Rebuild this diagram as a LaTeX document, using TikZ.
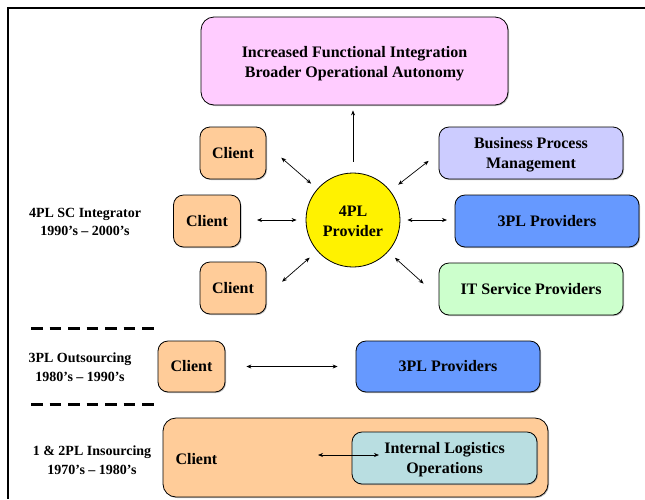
\documentclass[tikz,border=0pt]{standalone}
\usepackage{fontspec}
\setmainfont{Liberation Serif}
\usetikzlibrary{arrows.meta,shadows}
\definecolor{goalpink}{RGB}{255,204,255}
\definecolor{clientor}{RGB}{255,204,153}
\definecolor{bpmlav}{RGB}{204,204,255}
\definecolor{tplblue}{RGB}{102,153,255}
\definecolor{itgreen}{RGB}{204,255,204}
\definecolor{opsteal}{RGB}{185,222,225}
\begin{document}
\begin{tikzpicture}[x=1pt,y=-1pt, every node/.style={font=\bfseries\fontsize{16}{20}\selectfont},
  box/.style={draw,rounded corners=10pt,minimum height=52pt,align=center,line width=0.8pt,
    drop shadow={shadow xshift=1pt,shadow yshift=-1pt,fill=black!45,opacity=0.6}},
  era/.style={align=center,font=\bfseries\fontsize{14}{18.5}\selectfont},
  link/.style={{Stealth[length=5pt,width=4pt]}-{Stealth[length=5pt,width=4pt]},line width=0.7pt}]
\useasboundingbox (0,0) rectangle (645,499);
% frame
\draw[line width=1.4pt] (645,8) -- (8,8) -- (8,499);
% 4PL era
\node[box,fill=goalpink,minimum width=307pt,minimum height=88pt,rounded corners=13pt] (goal) at (354.5,61) {\rule{0pt}{17pt}Increased Functional Integration\\Broader Operational Autonomy};
\node[draw,circle,fill=yellow,minimum size=94pt,inner sep=0pt,line width=0.8pt,align=center] (hub) at (353,220) {\rule{0pt}{13pt}4PL\\Provider};
\node[box,fill=clientor,minimum width=66pt] (c1) at (233,153) {Client};
\node[box,fill=clientor,minimum width=67pt] (c2) at (207,221) {Client};
\node[box,fill=clientor,minimum width=66pt] (c3) at (233,288) {Client};
\node[box,fill=bpmlav,minimum width=184pt] (bpm) at (531,153) {\rule{0pt}{15pt}Business Process\\Management};
\node[box,fill=tplblue,minimum width=184pt] (tpl) at (547,221) {3PL Providers};
\node[box,fill=itgreen,minimum width=184pt] (its) at (531,289) {IT Service Providers};
\node[era] (e4) at (85,222) {4PL SC Integrator\\1990's -- 2000's};
\draw[-{Stealth[length=5pt,width=4pt]},line width=0.7pt,shorten <=11pt,shorten >=5pt] (hub.north) -- (hub.north |- goal.south);
% y axis is flipped, so polar angles are mirrored
\path (hub.center) ++(-139:95) coordinate (r1) (hub.center) ++(180:96) coordinate (r2) (hub.center) ++(-221:94) coordinate (r3)
  (hub.center) ++(-38:96) coordinate (r4) (hub.center) ++(0:94) coordinate (r5) (hub.center) ++(42:95) coordinate (r6);
\draw[link,shorten <=8pt] (hub.139) -- (r1); \draw[link,shorten <=9pt] (hub.180) -- (r2); \draw[link,shorten <=10pt] (hub.221) -- (r3);
\draw[link,shorten <=10pt] (hub.38) -- (r4); \draw[link,shorten <=7pt] (hub.0) -- (r5); \draw[link,shorten <=9pt] (hub.-42) -- (r6);
% separators
\draw[line width=3pt,dash pattern=on 11.5pt off 7pt] (31,328) -- (154,328);
\draw[line width=3pt,dash pattern=on 11.5pt off 7pt] (31,404) -- (154,404);
% 3PL era
\node[era] (e3) at (80,367) {3PL Outsourcing\\1980's -- 1990's};
\node[box,fill=clientor,minimum width=67pt,minimum height=51pt] (cl2) at (191.5,366.5) {Client};
\node[box,fill=tplblue,minimum width=184pt,minimum height=51pt] (tpl2) at (448,366.5) {3PL Providers};
\draw[link,shorten <=21pt,shorten >=18pt] (cl2) -- (tpl2);
% 1 & 2PL era
\node[era] (e1) at (92,460) {1 \& 2PL Insourcing\\1970's -- 1980's};
\node[box,fill=clientor,minimum width=385pt,minimum height=79pt,rounded corners=13pt] (cl1) at (355.5,457.5) {};
\node[anchor=west] (cl1t) at (172,459) {Client};
\node[box,fill=opsteal,minimum width=185pt] (ops) at (444.5,458) {\rule{0pt}{15pt}Internal Logistics\\Operations};
\coordinate (inA) at (318,455); \coordinate (inB) at (379,455);
\draw[link] (inA) -- (inB);
\end{tikzpicture}
\end{document}
